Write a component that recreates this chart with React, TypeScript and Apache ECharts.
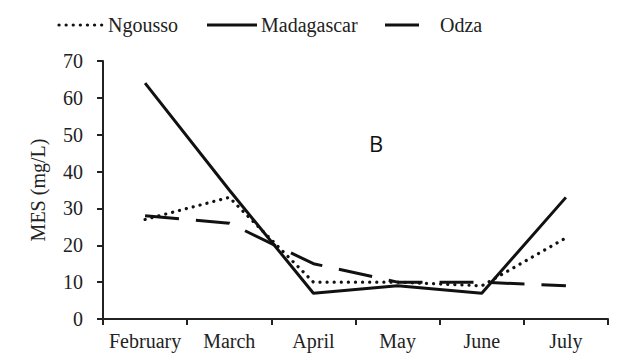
import React, { useEffect, useRef } from "react";
import * as echarts from "echarts";

const categories = ["February", "March", "April", "May", "June", "July"];
const ngousso = [27, 33, 10, 10, 9, 22];
const madagascar = [64, 35, 7, 9, 7, 33];
const odza = [28, 26, 15, 10, 10, 9];
const yTicks = { min: 0, max: 70, interval: 10 };
const seriesNames = ["Ngousso", "Madagascar", "Odza"];

const serif = "Liberation Serif";
const ink = "#111";

export default function App() {
  const ref = useRef<HTMLDivElement>(null);
  useEffect(() => {
    const chart = echarts.init(ref.current!, null, { renderer: "svg" });
    const legendFont = "20px 'Liberation Serif', serif";
    chart.setOption({
      animation: false,
      grid: { left: 103, right: 24, top: 61, bottom: 35 },
      xAxis: {
        type: "category",
        data: categories,
        axisLine: { show: true, lineStyle: { color: "#222", width: 2 } },
        axisTick: { show: true, length: 6, lineStyle: { color: "#222", width: 2 } },
        axisLabel: { fontFamily: serif, fontSize: 20, color: "#222", margin: 12, interval: 0, hideOverlap: false },
      },
      yAxis: {
        type: "value",
        min: yTicks.min,
        max: yTicks.max,
        interval: yTicks.interval,
        name: "MES (mg/L)",
        nameLocation: "middle",
        nameGap: 55,
        nameTextStyle: { fontFamily: serif, fontSize: 20, color: "#222" },
        splitLine: { show: false },
        axisLine: { show: true, lineStyle: { color: "#222", width: 2 } },
        axisTick: { show: true, length: 6, lineStyle: { color: "#222", width: 2 } },
        axisLabel: { fontFamily: serif, fontSize: 20, color: "#222", margin: 20 },
      },
      series: [
        {
          name: seriesNames[0],
          type: "line",
          data: ngousso,
          symbol: "none",
          lineStyle: { color: ink, width: 3.2, type: [0.1, 7], cap: "round" },
          z: 4,
        },
        {
          name: seriesNames[1],
          type: "line",
          data: madagascar,
          symbol: "none",
          lineStyle: { color: ink, width: 3, type: "solid" },
          z: 3,
        },
        {
          name: seriesNames[2],
          type: "line",
          data: odza,
          symbol: "none",
          lineStyle: { color: ink, width: 3, type: [34, 17] },
          z: 2,
        },
      ],
      graphic: [
        {
          type: "line",
          shape: { x1: 59, y1: 25, x2: 105, y2: 25 },
          style: { stroke: ink, lineWidth: 3.2, lineDash: [0.1, 7], lineCap: "round" },
        },
        { type: "text", x: 108, y: 25, style: { text: seriesNames[0], font: legendFont, fill: "#222", verticalAlign: "middle" } },
        {
          type: "line",
          shape: { x1: 207, y1: 25, x2: 257, y2: 25 },
          style: { stroke: ink, lineWidth: 3 },
        },
        { type: "text", x: 261, y: 25, style: { text: seriesNames[1], font: legendFont, fill: "#222", verticalAlign: "middle" } },
        {
          type: "line",
          shape: { x1: 385, y1: 25, x2: 419, y2: 25 },
          style: { stroke: ink, lineWidth: 3 },
        },
        { type: "text", x: 440, y: 25, style: { text: seriesNames[2], font: legendFont, fill: "#222", verticalAlign: "middle" } },
        {
          type: "text",
          x: 369,
          y: 132,
          style: { text: "B", font: "22px 'Open Sans', sans-serif", fill: ink },
        },
      ],
    });
    return () => chart.dispose();
  }, []);
  return <div ref={ref} style={{ width: 632, height: 354, position: "relative", left: -8, top: -8 }} />;
}
